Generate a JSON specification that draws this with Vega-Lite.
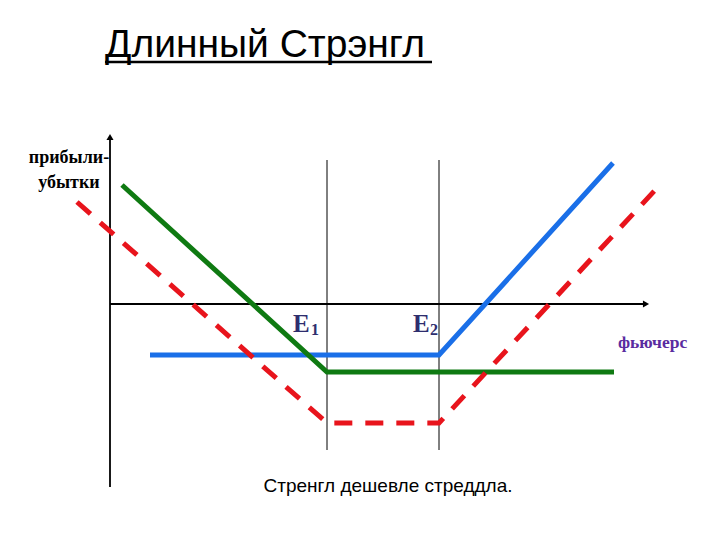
{
  "$schema": "https://vega.github.io/schema/vega-lite/v6.json",
  "width": 720,
  "height": 540,
  "autosize": {"type": "fit", "contains": "padding"},
  "padding": 0,
  "background": "white",
  "config": {"view": {"stroke": null}},
  "datasets": {
    "axes": [
      {"axis": "x", "x": 0, "y": 0, "o": 0},
      {"axis": "x", "x": 53.4, "y": 0, "o": 1},
      {"axis": "y", "x": 0, "y": -18.3, "o": 0},
      {"axis": "y", "x": 0, "y": 16.5, "o": 1}
    ],
    "arrowx": [{"x": 53.6, "y": 0}],
    "arrowy": [{"x": 0, "y": 16.7}],
    "strikes": [
      {"k": "E1", "x": 21.7, "y": 14.4, "y2": -14.6},
      {"k": "E2", "x": 32.9, "y": 14.4, "y2": -14.6}
    ],
    "blue": [
      {"x": 4.0, "y": -5.1, "o": 0},
      {"x": 32.9, "y": -5.1, "o": 1},
      {"x": 50.3, "y": 14.1, "o": 2}
    ],
    "green": [
      {"x": 1.2, "y": 11.9, "o": 0},
      {"x": 21.7, "y": -6.8, "o": 1},
      {"x": 50.4, "y": -6.8, "o": 2}
    ],
    "red": [
      {"x": -3.3, "y": 10.2, "o": 0},
      {"x": 21.7, "y": -11.9, "o": 1},
      {"x": 32.9, "y": -11.9, "o": 2},
      {"x": 54.8, "y": 11.7, "o": 3}
    ],
    "title": [{"t": "Длинный Стрэнгл", "x": -0.5, "y": 24.7}],
    "underline": [{"x": -0.5, "x2": 32.2, "y": 24.2}],
    "ylab": [
      {"t": "прибыли-", "x": -4.1, "y": 14.6},
      {"t": "убытки", "x": -4.1, "y": 12.1}
    ],
    "ebig": [
      {"t": "E", "x": 18.3, "y": -2.8},
      {"t": "E", "x": 30.3, "y": -2.8}
    ],
    "esub": [
      {"t": "1", "x": 20.1, "y": -3.1},
      {"t": "2", "x": 32.0, "y": -3.1}
    ],
    "xlab": [{"t": "фьючерс", "x": 50.8, "y": -3.9}],
    "note": [{"t": "Стренгл дешевле стреддла.", "x": 27.8, "y": -18.2}]
  },
  "encoding": {
    "x": {"field": "x", "type": "quantitative", "scale": {"domain": [-11, 61], "nice": false, "zero": false}, "axis": null},
    "y": {"field": "y", "type": "quantitative", "scale": {"domain": [-23.6, 30.4], "nice": false, "zero": false}, "axis": null}
  },
  "layer": [
    {
      "data": {"name": "axes"},
      "mark": {"type": "line", "color": "black", "strokeWidth": 1.8},
      "encoding": {"detail": {"field": "axis"}, "order": {"field": "o"}}
    },
    {
      "data": {"name": "arrowx"},
      "mark": {"type": "point", "shape": "triangle-right", "filled": true, "color": "black", "size": 50, "opacity": 1}
    },
    {
      "data": {"name": "arrowy"},
      "mark": {"type": "point", "shape": "triangle-up", "filled": true, "color": "black", "size": 50, "opacity": 1}
    },
    {
      "data": {"name": "strikes"},
      "mark": {"type": "rule", "color": "black", "strokeWidth": 1},
      "encoding": {"y2": {"field": "y2"}}
    },
    {
      "data": {"name": "blue"},
      "mark": {"type": "line", "color": "#1a6fe8", "strokeWidth": 5},
      "encoding": {"order": {"field": "o"}}
    },
    {
      "data": {"name": "green"},
      "mark": {"type": "line", "color": "#0f7a12", "strokeWidth": 5},
      "encoding": {"order": {"field": "o"}}
    },
    {
      "data": {"name": "red"},
      "mark": {"type": "line", "color": "#e8141c", "strokeWidth": 5, "strokeDash": [18, 13], "strokeCap": "butt"},
      "encoding": {"order": {"field": "o"}}
    },
    {
      "data": {"name": "title"},
      "mark": {"type": "text", "font": "Liberation Sans", "fontSize": 39, "align": "left", "baseline": "alphabetic", "color": "black"},
      "encoding": {"text": {"field": "t"}}
    },
    {
      "data": {"name": "underline"},
      "mark": {"type": "rule", "color": "black", "strokeWidth": 2.5},
      "encoding": {"x2": {"field": "x2"}}
    },
    {
      "data": {"name": "ylab"},
      "mark": {"type": "text", "font": "Liberation Serif", "fontWeight": "bold", "fontSize": 18, "align": "center", "baseline": "middle", "color": "black"},
      "encoding": {"text": {"field": "t"}}
    },
    {
      "data": {"name": "ebig"},
      "mark": {"type": "text", "font": "Liberation Serif", "fontWeight": "bold", "fontSize": 25, "align": "left", "baseline": "alphabetic", "color": "#2e2e6e"},
      "encoding": {"text": {"field": "t"}}
    },
    {
      "data": {"name": "esub"},
      "mark": {"type": "text", "font": "Liberation Serif", "fontWeight": "bold", "fontSize": 16, "align": "left", "baseline": "alphabetic", "color": "#2e2e6e"},
      "encoding": {"text": {"field": "t"}}
    },
    {
      "data": {"name": "xlab"},
      "mark": {"type": "text", "font": "Liberation Serif", "fontWeight": "bold", "fontSize": 17.5, "align": "left", "baseline": "middle", "color": "#5a2ca0"},
      "encoding": {"text": {"field": "t"}}
    },
    {
      "data": {"name": "note"},
      "mark": {"type": "text", "font": "Liberation Sans", "fontWeight": 500, "fontSize": 19, "align": "center", "baseline": "middle", "color": "black"},
      "encoding": {"text": {"field": "t"}}
    }
  ]
}
